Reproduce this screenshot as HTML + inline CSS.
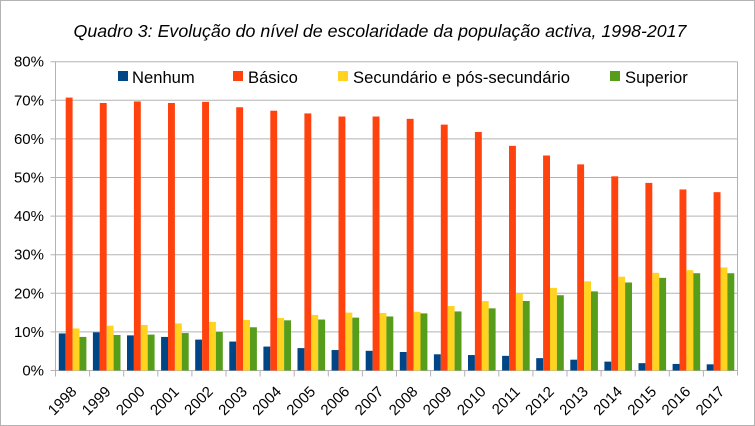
<!DOCTYPE html>
<html><head><style>
body{margin:0;background:#fff;}
svg{display:block;font-family:"Liberation Sans",sans-serif;}
</style></head><body>
<svg width="755" height="426" viewBox="0 0 755 426" xmlns="http://www.w3.org/2000/svg">
<rect x="0.5" y="0.5" width="754" height="425" fill="#fff" stroke="#b3b3b3"/>
<text x="380" y="37" text-anchor="middle" font-size="17.8" font-style="italic" fill="#000">Quadro 3: Evolução do nível de escolaridade da população activa, 1998-2017</text>
<g id="grid" stroke="#b3b3b3" stroke-width="1"></g>
<g id="bars"></g>
<g id="labels" font-size="14" fill="#000"></g>
<g font-size="16.6" fill="#000">
<rect x="118" y="71" width="10" height="10" fill="#004586"/><text x="132" y="83">Nenhum</text>
<rect x="233" y="71" width="10" height="10" fill="#ff420e"/><text x="248" y="83">Básico</text>
<rect x="338" y="71" width="10" height="10" fill="#ffd320"/><text x="353" y="83" textLength="217">Secundário e pós-secundário</text>
<rect x="610" y="71" width="10" height="10" fill="#579d1c"/><text x="625" y="83">Superior</text>
</g>
</svg>
<script>
const ns="http://www.w3.org/2000/svg";
const L=55.5,R=737.5,Y0=370.5,S=38.6;
const g=document.getElementById('grid'),b=document.getElementById('bars'),lb=document.getElementById('labels');
function el(p,t,a,txt){const e=document.createElementNS(ns,t);for(const k in a)e.setAttribute(k,a[k]);if(txt)e.textContent=txt;p.appendChild(e);return e;}
for(let i=0;i<=8;i++){const y=Y0-i*S;el(g,'line',{x1:L-5,x2:R,y1:y,y2:y});el(lb,'text',{x:44,y:y+5,'text-anchor':'end','font-size':15},(i*10)+'%');}
el(g,'line',{x1:L,x2:L,y1:Y0-8*S,y2:Y0});
el(g,'line',{x1:R,x2:R,y1:Y0-8*S,y2:Y0+5});
const d=[[9.6,9.9,9.1,8.7,8.0,7.5,6.2,5.8,5.3,5.1,4.8,4.2,4.0,3.8,3.2,2.8,2.3,1.9,1.7,1.6],
[70.7,69.3,69.7,69.3,69.6,68.2,67.3,66.6,65.8,65.8,65.2,63.7,61.8,58.2,55.7,53.4,50.3,48.6,46.9,46.2],
[10.9,11.6,11.8,12.2,12.6,13.1,13.6,14.4,15.0,14.9,15.2,16.7,18.0,20.0,21.4,23.1,24.3,25.3,26.0,26.7],
[8.7,9.2,9.3,9.7,10.0,11.2,13.0,13.2,13.7,14.0,14.8,15.3,16.1,18.0,19.5,20.5,22.8,24.0,25.2,25.2]];
const c=['#004586','#ff420e','#ffd320','#579d1c'];
const W=(R-L)/20;
for(let i=0;i<20;i++){const x0=L+i*W;
el(g,'line',{x1:x0,x2:x0,y1:Y0,y2:Y0+6});
for(let s=0;s<4;s++){const h=d[s][i]*S/10;el(b,'rect',{x:x0+3.3+s*6.9,y:Y0-h,width:6.9,height:h,fill:c[s]});}
const cx=x0+W/2+5,cy=Y0+22;
el(lb,'text',{x:cx,y:cy,'text-anchor':'end','font-size':15,transform:`rotate(-45 ${cx} ${cy})`},String(1998+i));
}
</script>
</body></html>
